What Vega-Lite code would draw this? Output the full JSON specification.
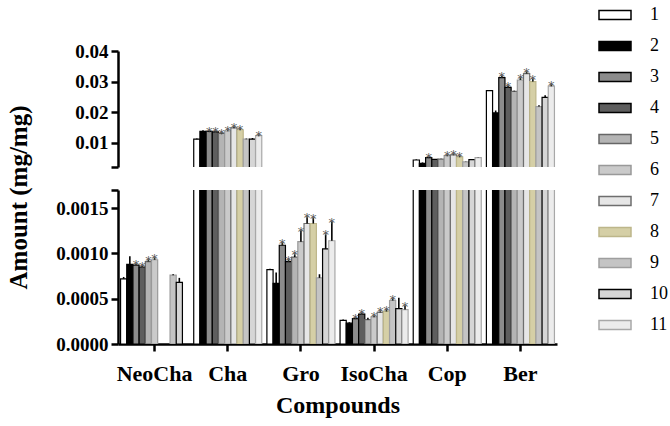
{
  "$schema": "https://vega.github.io/schema/vega-lite/v6.json",
  "padding": {"left": 6, "top": 6, "right": 5, "bottom": 3},
  "bounds": "flush",
  "spacing": 23,
  "config": {
    "view": {"stroke": null},
    "font": "Liberation Serif",
    "axis": {"grid": false, "labelOverlap": false, "labelFlush": false}
  },
  "data": {
    "values": [
      {"compound": "NeoCha", "group": 1, "value": 0.00072, "hi": 0.00074, "star": false},
      {"compound": "NeoCha", "group": 2, "value": 0.00088, "hi": 0.00097, "star": false},
      {"compound": "NeoCha", "group": 3, "value": 0.00087, "hi": 0.00088, "star": true},
      {"compound": "NeoCha", "group": 4, "value": 0.00085, "hi": 0.00086, "star": true},
      {"compound": "NeoCha", "group": 5, "value": 0.00091, "hi": 0.00093, "star": true},
      {"compound": "NeoCha", "group": 6, "value": 0.00093, "hi": 0.00095, "star": true},
      {"compound": "NeoCha", "group": 9, "value": 0.00076, "hi": 0.00077, "star": false},
      {"compound": "NeoCha", "group": 10, "value": 0.00068, "hi": 0.00073, "star": false},
      {"compound": "Cha", "group": 1, "value": 0.0111, "hi": 0.0113, "star": false},
      {"compound": "Cha", "group": 2, "value": 0.0137, "hi": 0.014, "star": false},
      {"compound": "Cha", "group": 3, "value": 0.0137, "hi": 0.0139, "star": true},
      {"compound": "Cha", "group": 4, "value": 0.0135, "hi": 0.0137, "star": true},
      {"compound": "Cha", "group": 5, "value": 0.013, "hi": 0.0132, "star": true},
      {"compound": "Cha", "group": 6, "value": 0.0138, "hi": 0.014, "star": true},
      {"compound": "Cha", "group": 7, "value": 0.0148, "hi": 0.015, "star": true},
      {"compound": "Cha", "group": 8, "value": 0.0142, "hi": 0.0145, "star": true},
      {"compound": "Cha", "group": 9, "value": 0.0111, "hi": 0.0113, "star": false},
      {"compound": "Cha", "group": 10, "value": 0.0111, "hi": 0.0115, "star": false},
      {"compound": "Cha", "group": 11, "value": 0.0123, "hi": 0.0125, "star": true},
      {"compound": "Gro", "group": 1, "value": 0.00082, "hi": 0.00083, "star": false},
      {"compound": "Gro", "group": 2, "value": 0.00067, "hi": 0.00079, "star": false},
      {"compound": "Gro", "group": 3, "value": 0.00109, "hi": 0.00112, "star": true},
      {"compound": "Gro", "group": 4, "value": 0.00091, "hi": 0.00093, "star": true},
      {"compound": "Gro", "group": 5, "value": 0.00096, "hi": 0.00099, "star": true},
      {"compound": "Gro", "group": 6, "value": 0.00113, "hi": 0.00125, "star": true},
      {"compound": "Gro", "group": 7, "value": 0.00133, "hi": 0.0014, "star": true},
      {"compound": "Gro", "group": 8, "value": 0.00133, "hi": 0.00139, "star": true},
      {"compound": "Gro", "group": 9, "value": 0.00073, "hi": 0.00077, "star": false},
      {"compound": "Gro", "group": 10, "value": 0.00105, "hi": 0.00121, "star": true},
      {"compound": "Gro", "group": 11, "value": 0.00114, "hi": 0.00135, "star": true},
      {"compound": "IsoCha", "group": 1, "value": 0.00026, "hi": 0.00027, "star": false},
      {"compound": "IsoCha", "group": 2, "value": 0.00023, "hi": 0.00024, "star": false},
      {"compound": "IsoCha", "group": 3, "value": 0.00028, "hi": 0.00029, "star": true},
      {"compound": "IsoCha", "group": 4, "value": 0.00033, "hi": 0.00034, "star": true},
      {"compound": "IsoCha", "group": 5, "value": 0.00027, "hi": 0.00029, "star": false},
      {"compound": "IsoCha", "group": 6, "value": 0.0003, "hi": 0.00031, "star": true},
      {"compound": "IsoCha", "group": 7, "value": 0.00035, "hi": 0.00036, "star": true},
      {"compound": "IsoCha", "group": 8, "value": 0.00036, "hi": 0.00038, "star": true},
      {"compound": "IsoCha", "group": 9, "value": 0.00048, "hi": 0.0005, "star": true},
      {"compound": "IsoCha", "group": 10, "value": 0.00039, "hi": 0.00051, "star": false},
      {"compound": "IsoCha", "group": 11, "value": 0.00038, "hi": 0.00042, "star": true},
      {"compound": "Cop", "group": 1, "value": 0.0043, "hi": 0.0045, "star": false},
      {"compound": "Cop", "group": 2, "value": 0.0032, "hi": 0.0035, "star": false},
      {"compound": "Cop", "group": 3, "value": 0.0051, "hi": 0.0053, "star": true},
      {"compound": "Cop", "group": 4, "value": 0.0045, "hi": 0.0046, "star": false},
      {"compound": "Cop", "group": 5, "value": 0.0046, "hi": 0.0047, "star": false},
      {"compound": "Cop", "group": 6, "value": 0.0057, "hi": 0.0059, "star": true},
      {"compound": "Cop", "group": 7, "value": 0.006, "hi": 0.0062, "star": true},
      {"compound": "Cop", "group": 8, "value": 0.0053, "hi": 0.0056, "star": true},
      {"compound": "Cop", "group": 9, "value": 0.0037, "hi": 0.0038, "star": false},
      {"compound": "Cop", "group": 10, "value": 0.0044, "hi": 0.0045, "star": false},
      {"compound": "Cop", "group": 11, "value": 0.0051, "hi": 0.0052, "star": false},
      {"compound": "Ber", "group": 1, "value": 0.027, "hi": 0.0272, "star": false},
      {"compound": "Ber", "group": 2, "value": 0.0197, "hi": 0.0205, "star": false},
      {"compound": "Ber", "group": 3, "value": 0.0313, "hi": 0.0318, "star": true},
      {"compound": "Ber", "group": 4, "value": 0.0281, "hi": 0.0285, "star": true},
      {"compound": "Ber", "group": 5, "value": 0.0268, "hi": 0.027, "star": false},
      {"compound": "Ber", "group": 6, "value": 0.0305, "hi": 0.0312, "star": true},
      {"compound": "Ber", "group": 7, "value": 0.0326, "hi": 0.0332, "star": true},
      {"compound": "Ber", "group": 8, "value": 0.03, "hi": 0.0308, "star": true},
      {"compound": "Ber", "group": 9, "value": 0.0218, "hi": 0.0222, "star": false},
      {"compound": "Ber", "group": 10, "value": 0.0248, "hi": 0.0255, "star": false},
      {"compound": "Ber", "group": 11, "value": 0.0285, "hi": 0.029, "star": true}
    ]
  },
  "resolve": {"scale": {"y": "independent"}, "axis": {"y": "independent"}},
  "vconcat": [
    {
      "width": 439,
      "height": 116,
      "encoding": {
        "x": {"field": "compound", "type": "nominal", "sort": ["NeoCha", "Cha", "Gro", "IsoCha", "Cop", "Ber"], "scale": {"paddingInner": 0.07, "paddingOuter": 0.035}, "axis": null},
        "xOffset": {"field": "group", "type": "ordinal", "scale": {"paddingInner": 0, "paddingOuter": 0}}
      },
      "layer": [
        {
          "mark": {"type": "bar", "clip": true, "strokeWidth": 1.2},
          "encoding": {
            "y": {"field": "value", "type": "quantitative", "scale": {"domain": [0.002, 0.04], "zero": false, "nice": false},
              "axis": {"values": [0.002, 0.01, 0.02, 0.03, 0.04], "labelOverlap": false, "labelExpr": "datum.value < 0.005 ? '' : format(datum.value, '.2f')", "title": null, "tickSize": 7, "tickWidth": 2.5, "domainWidth": 2.5, "domainColor": "black", "tickColor": "black", "labelColor": "black", "labelFont": "Liberation Serif", "labelFontWeight": "bold", "labelFontSize": 19, "labelPadding": 3}},
            "fill": {"field": "group", "type": "ordinal", "title": null,
              "scale": {"domain": [1,2,3,4,5,6,7,8,9,10,11], "range": ["#ffffff", "#000000", "#8c8c8c", "#5e5e5e", "#b4b4b4", "#cacaca", "#e6e6e6", "#d5cfa6", "#c4c4c4", "#d6d6d6", "#ececec"]},
              "legend": {"orient": "none", "legendX": 488, "legendY": -45, "symbolType": "M-2,-0.56H2V0.56H-2Z", "symbolSize": 256, "symbolStrokeWidth": 1.5, "labelFont": "Liberation Serif", "labelFontSize": 18, "labelColor": "black", "labelOffset": 26, "rowPadding": 13}},
            "stroke": {"field": "group", "type": "ordinal", "title": null,
              "scale": {"domain": [1,2,3,4,5,6,7,8,9,10,11], "range": ["#000000", "#000000", "#000000", "#000000", "#666666", "#999999", "#6e6e6e", "#bdb68a", "#9e9e9e", "#000000", "#a8a8a8"]}}
          }
        },
        {
          "transform": [{"filter": "datum.value > 0.002"}],
          "mark": {"type": "rule", "clip": true, "strokeWidth": 1.6, "color": "black"},
          "encoding": {"y": {"field": "value", "type": "quantitative",
              "axis": {"values": [0.002, 0.01, 0.02, 0.03, 0.04], "labelOverlap": false, "labelExpr": "datum.value < 0.005 ? '' : format(datum.value, '.2f')", "title": null, "tickSize": 7, "tickWidth": 2.5, "domainWidth": 2.5, "domainColor": "black", "tickColor": "black", "labelColor": "black", "labelFont": "Liberation Serif", "labelFontWeight": "bold", "labelFontSize": 19, "labelPadding": 3}},
            "y2": {"field": "hi"}}
        },
        {
          "transform": [{"filter": "datum.star && datum.value > 0.002"}],
          "mark": {"type": "text", "text": "*", "clip": true, "fontSize": 13, "font": "DejaVu Sans", "color": "#555555", "baseline": "alphabetic", "dy": 5},
          "encoding": {"y": {"field": "hi", "type": "quantitative",
              "axis": {"values": [0.002, 0.01, 0.02, 0.03, 0.04], "labelOverlap": false, "labelExpr": "datum.value < 0.005 ? '' : format(datum.value, '.2f')", "title": null, "tickSize": 7, "tickWidth": 2.5, "domainWidth": 2.5, "domainColor": "black", "tickColor": "black", "labelColor": "black", "labelFont": "Liberation Serif", "labelFontWeight": "bold", "labelFontSize": 19, "labelPadding": 3}}}
        }
      ]
    },
    {
      "width": 439,
      "height": 154,
      "encoding": {
        "x": {"field": "compound", "type": "nominal", "sort": ["NeoCha", "Cha", "Gro", "IsoCha", "Cop", "Ber"], "scale": {"paddingInner": 0.07, "paddingOuter": 0.035},
          "axis": {"title": "Compounds", "labelAngle": 0, "labelOverlap": false, "tickSize": 7, "tickWidth": 2.5, "domainWidth": 2.5, "domainColor": "black", "tickColor": "black", "labelColor": "black", "labelFont": "Liberation Serif", "labelFontWeight": "bold", "labelFontSize": 22, "labelPadding": 12, "titleFont": "Liberation Serif", "titleFontWeight": "bold", "titleFontSize": 24, "titleColor": "black", "titlePadding": 9}},
        "xOffset": {"field": "group", "type": "ordinal", "scale": {"paddingInner": 0, "paddingOuter": 0}}
      },
      "layer": [
        {
          "mark": {"type": "bar", "clip": true, "strokeWidth": 1.2},
          "encoding": {
            "y": {"field": "value", "type": "quantitative", "scale": {"domain": [0, 0.0017], "nice": false},
              "axis": {"values": [0, 0.0005, 0.001, 0.0015, 0.0017], "labelOverlap": false, "labelExpr": "datum.value > 0.0016 ? '' : format(datum.value, '.4f')", "title": "Amount (mg/mg)", "titleY": 7, "titleFont": "Liberation Serif", "titleFontWeight": "bold", "titleFontSize": 25, "titleColor": "black", "titlePadding": 24, "tickSize": 7, "tickWidth": 2.5, "domainWidth": 2.5, "domainColor": "black", "tickColor": "black", "labelColor": "black", "labelFont": "Liberation Serif", "labelFontWeight": "bold", "labelFontSize": 19, "labelPadding": 3}},
            "fill": {"field": "group", "type": "ordinal", "title": null,
              "scale": {"domain": [1,2,3,4,5,6,7,8,9,10,11], "range": ["#ffffff", "#000000", "#8c8c8c", "#5e5e5e", "#b4b4b4", "#cacaca", "#e6e6e6", "#d5cfa6", "#c4c4c4", "#d6d6d6", "#ececec"]}},
            "stroke": {"field": "group", "type": "ordinal", "title": null,
              "scale": {"domain": [1,2,3,4,5,6,7,8,9,10,11], "range": ["#000000", "#000000", "#000000", "#000000", "#666666", "#999999", "#6e6e6e", "#bdb68a", "#9e9e9e", "#000000", "#a8a8a8"]}}
          }
        },
        {
          "transform": [{"filter": "datum.value < 0.0017"}],
          "mark": {"type": "rule", "clip": true, "strokeWidth": 1.6, "color": "black"},
          "encoding": {"y": {"field": "value", "type": "quantitative",
              "axis": {"values": [0, 0.0005, 0.001, 0.0015, 0.0017], "labelOverlap": false, "labelExpr": "datum.value > 0.0016 ? '' : format(datum.value, '.4f')", "title": "Amount (mg/mg)", "titleY": 7, "titleFont": "Liberation Serif", "titleFontWeight": "bold", "titleFontSize": 25, "titleColor": "black", "titlePadding": 24, "tickSize": 7, "tickWidth": 2.5, "domainWidth": 2.5, "domainColor": "black", "tickColor": "black", "labelColor": "black", "labelFont": "Liberation Serif", "labelFontWeight": "bold", "labelFontSize": 19, "labelPadding": 3}},
            "y2": {"field": "hi"}}
        },
        {
          "transform": [{"filter": "datum.star && datum.hi < 0.0016"}],
          "mark": {"type": "text", "text": "*", "clip": true, "fontSize": 13, "font": "DejaVu Sans", "color": "#555555", "baseline": "alphabetic", "dy": 5},
          "encoding": {"y": {"field": "hi", "type": "quantitative",
              "axis": {"values": [0, 0.0005, 0.001, 0.0015, 0.0017], "labelOverlap": false, "labelExpr": "datum.value > 0.0016 ? '' : format(datum.value, '.4f')", "title": "Amount (mg/mg)", "titleY": 7, "titleFont": "Liberation Serif", "titleFontWeight": "bold", "titleFontSize": 25, "titleColor": "black", "titlePadding": 24, "tickSize": 7, "tickWidth": 2.5, "domainWidth": 2.5, "domainColor": "black", "tickColor": "black", "labelColor": "black", "labelFont": "Liberation Serif", "labelFontWeight": "bold", "labelFontSize": 19, "labelPadding": 3}}}
        }
      ]
    }
  ]
}
